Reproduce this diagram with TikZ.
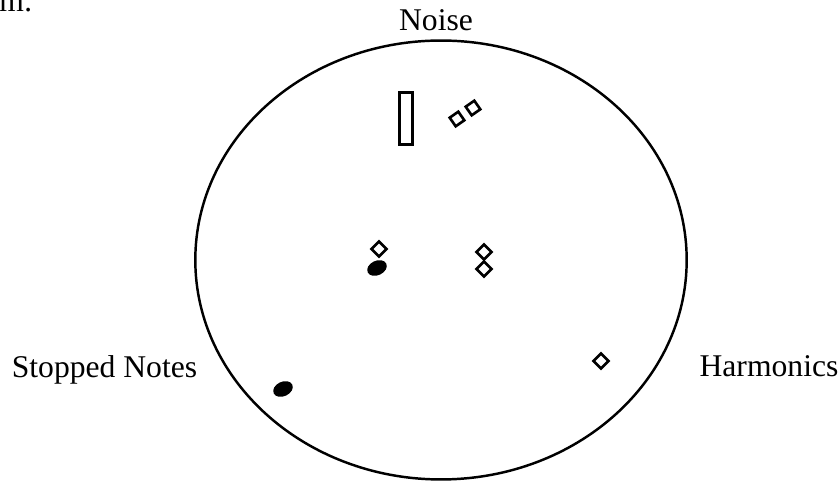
\documentclass[tikz,border=0pt]{standalone}
\usepackage{fontspec}
\setmainfont{Liberation Serif}
\usetikzlibrary{shapes.geometric}

\begin{document}
\begin{tikzpicture}[
  x=0.02cm,y=-0.02cm,
  txt/.style={font=\fontsize{18}{22}\selectfont,anchor=base,inner sep=0pt},
  harm/.style={draw,rectangle,line width=1.5pt,minimum size=2.1mm,
    inner sep=0pt,rotate=45},
  stopnote/.style={fill,ellipse,minimum width=4.1mm,minimum height=2.9mm,
    inner sep=0pt,rotate=25}
]
\useasboundingbox (0,0) rectangle (839,482);
\node[draw,ellipse,line width=1.4pt,minimum width=9.83cm,minimum height=8.78cm,
  inner sep=0pt] (space) at (441,260) {};
% axis labels
\node[txt,anchor=base east] (intro) at (33,12) {diagram:};
\node[txt] (noise) at (436,31) {Noise};
\node[txt] (stopped) at (104.5,378) {Stopped Notes};
\node[txt] (harmonics) at (769,377) {Harmonics};
% noise region
\node[draw,rectangle,line width=1.7pt,minimum width=2.6mm,minimum height=10.4mm,
  inner sep=0pt] (bar) at (406,118.5) {};
\fill (bar.north west) rectangle ([yshift=-1.2pt]bar.north east);
\fill (bar.south west) rectangle ([yshift=1.2pt]bar.south east);
\node[harm,rotate=-10] (h1) at (457,119) {};
\node[harm,rotate=-10] (h2) at (473,108) {};
% middle
\node[harm] (h3) at (379,249) {};
\node[stopnote] (s1) at (377,268) {};
\node[harm] (h4) at (484,252) {};
\node[harm] (h5) at (484,269) {};
% outer points
\node[stopnote] (s2) at (283,389) {};
\node[harm] (h6) at (601,361) {};
\end{tikzpicture}
\end{document}
